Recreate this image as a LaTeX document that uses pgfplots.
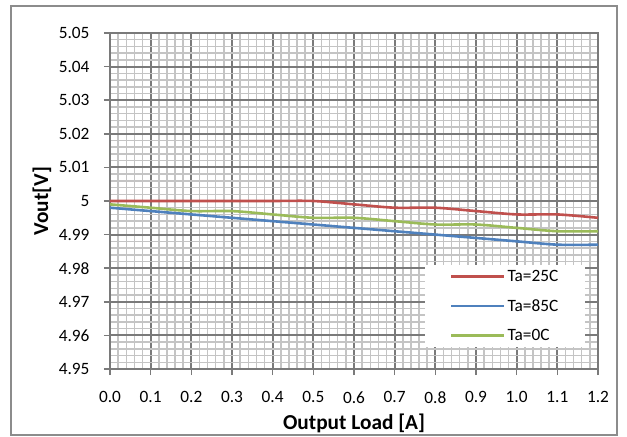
\documentclass[border=0pt]{standalone}
\usepackage{pgfplots}
\pgfplotsset{compat=1.18}
\usepackage{fontspec}
\setmainfont{Carlito}
\definecolor{c25}{HTML}{C0504D}
\definecolor{c85}{HTML}{4F81BD}
\definecolor{c0}{HTML}{9BBB59}
\definecolor{majg}{HTML}{7A7A7A}
\definecolor{ming}{HTML}{C4C4C4}
\definecolor{frameg}{HTML}{8C8C8C}

\begin{document}
\begin{tikzpicture}
\useasboundingbox (-110bp,-68bp) rectangle (517bp,369bp);
\draw[frameg, line width=1.2bp] (-99bp,-66bp) rectangle (507bp,363bp);
\begin{axis}[
  at={(0,0)}, anchor=south west,
  scale only axis, width=488bp, height=336bp,
  xmin=0, xmax=1.2, ymin=4.95, ymax=5.05,
  xtick={0,0.1,0.2,0.3,0.4,0.5,0.6,0.7,0.8,0.9,1.0,1.1,1.2},
  xticklabels={0.0,0.1,0.2,0.3,0.4,0.5,0.6,0.7,0.8,0.9,1.0,1.1,1.2},
  ytick={4.95,4.96,4.97,4.98,4.99,5,5.01,5.02,5.03,5.04,5.05},
  yticklabels={4.95,4.96,4.97,4.98,4.99,5,5.01,5.02,5.03,5.04,5.05},
  minor xtick={0.02,0.04,0.06,0.08,0.12,0.14,0.16,0.18,0.22,0.24,0.26,0.28,
    0.32,0.34,0.36,0.38,0.42,0.44,0.46,0.48,0.52,0.54,0.56,0.58,
    0.62,0.64,0.66,0.68,0.72,0.74,0.76,0.78,0.82,0.84,0.86,0.88,
    0.92,0.94,0.96,0.98,1.02,1.04,1.06,1.08,1.12,1.14,1.16,1.18},
  minor ytick={4.952,4.954,4.956,4.958,4.962,4.964,4.966,4.968,
    4.972,4.974,4.976,4.978,4.982,4.984,4.986,4.988,
    4.992,4.994,4.996,4.998,5.002,5.004,5.006,5.008,
    5.012,5.014,5.016,5.018,5.022,5.024,5.026,5.028,
    5.032,5.034,5.036,5.038,5.042,5.044,5.046,5.048},
  grid=both,
  major grid style={majg, line width=1.9bp},
  minor grid style={ming, line width=1.5bp},
  axis line style={majg, line width=1.9bp},
  tick style={majg, line width=1.5bp},
  minor tick style={draw=none},
  tick align=outside, major tick length=6bp,
  xtick pos=bottom, ytick pos=left,
  ticklabel style={font=\fontsize{17.3bp}{20bp}\selectfont},
  xticklabel style={yshift=-13bp},
  yticklabel style={xshift=-11bp},
  xlabel={\textbf{Output Load [A]}},
  ylabel={\textbf{Vout[V]}},
  label style={font=\fontsize{21.3bp}{24bp}\selectfont},
  xlabel style={at={(axis description cs:0.5,-0.1756)}, anchor=base, yshift=-1bp},
  ylabel style={at={(axis description cs:-0.1393,0.5)}, anchor=center},
  legend style={at={(axis description cs:0.645,0.065)}, anchor=south west,
    draw=none, fill=white, inner xsep=25bp, inner ysep=3bp,
    font=\fontsize{17.3bp}{20bp}\selectfont, row sep=12.5bp,
    nodes={inner sep=2bp}},
  legend cell align=left,
  legend image code/.code={\draw[#1, line width=2.6bp] (0bp,0bp) -- (53bp,0bp);},
  every axis plot/.append style={line width=2.6bp, smooth, tension=0.5},
]
\addplot[c25] coordinates {(0,5.000) (0.1,5.000) (0.2,5.000) (0.3,5.000) (0.4,5.000) (0.5,5.000) (0.6,4.999) (0.7,4.998) (0.8,4.998) (0.9,4.997) (1.0,4.996) (1.1,4.996) (1.2,4.995)};
\addplot[c85] coordinates {(0,4.998) (0.1,4.997) (0.2,4.996) (0.3,4.995) (0.4,4.994) (0.5,4.993) (0.6,4.992) (0.7,4.991) (0.8,4.990) (0.9,4.989) (1.0,4.988) (1.1,4.987) (1.2,4.987)};
\addplot[c0] coordinates {(0,4.999) (0.1,4.998) (0.2,4.997) (0.3,4.997) (0.4,4.996) (0.5,4.995) (0.6,4.995) (0.7,4.994) (0.8,4.993) (0.9,4.993) (1.0,4.992) (1.1,4.991) (1.2,4.991)};
\legend{Ta=25C,Ta=85C,Ta=0C}
\end{axis}
\end{tikzpicture}
\end{document}
